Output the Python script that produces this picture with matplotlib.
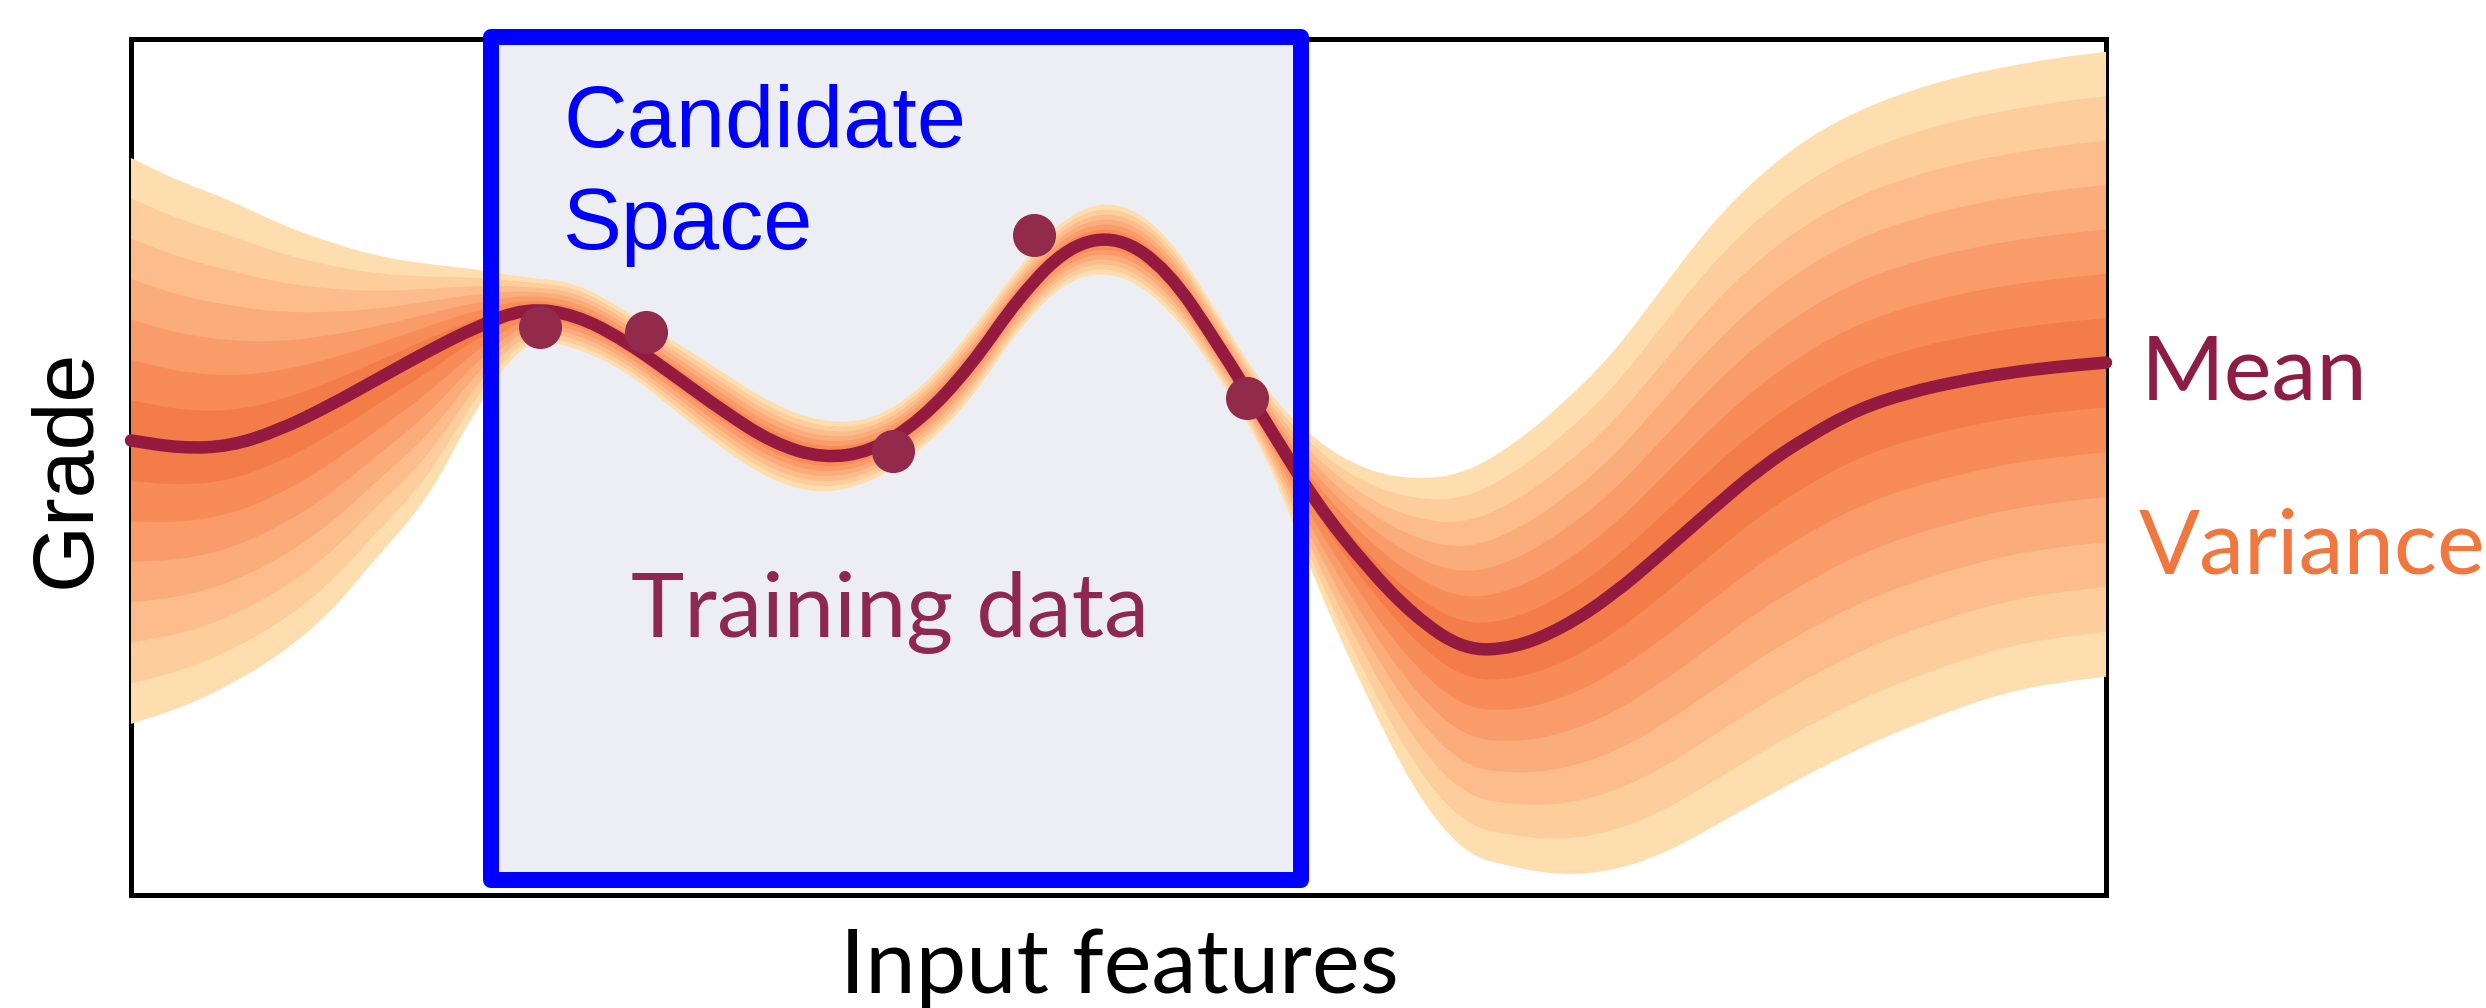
import matplotlib
matplotlib.use("Agg")
import matplotlib.pyplot as plt
from matplotlib.patches import Rectangle, PathPatch
from matplotlib.path import Path
from matplotlib.transforms import blended_transform_factory

# ---------------- data ----------------
x_feat = [0.0, 0.25, 0.5, 0.75, 1.0, 1.25, 1.5, 1.75, 2.0, 2.25, 2.5, 2.75,
          3.0, 3.25, 3.5, 3.75, 4.0, 4.25, 4.5, 4.75, 5.0, 5.25, 5.5, 5.75,
          6.0, 6.25, 6.5, 6.75, 7.0, 7.25, 7.5, 7.75, 8.0, 8.25, 8.5, 8.75,
          9.0, 9.25, 9.5, 9.75, 10.0]

grade_mean = [5.31, 5.22, 5.24, 5.43, 5.71, 6.03, 6.35, 6.64, 6.86, 6.78, 6.48, 6.07,
              5.65, 5.28, 5.10, 5.18, 5.55, 6.17, 7.00, 7.59, 7.70, 7.30, 6.45, 5.51,
              4.58, 3.85, 3.25, 2.86, 2.88, 3.12, 3.50, 3.99, 4.50, 4.99, 5.37, 5.68,
              5.87, 6.00, 6.10, 6.17, 6.22]

spread_up = [3.30, 3.11, 2.88, 2.41, 1.92, 1.43, 1.02, 0.67, 0.35, 0.38, 0.35, 0.40,
             0.45, 0.45, 0.42, 0.36, 0.36, 0.40, 0.36, 0.38, 0.42, 0.42, 0.36, 0.36,
             0.72, 1.11, 1.60, 2.06, 2.38, 2.62, 2.81, 3.09, 3.34, 3.43, 3.49, 3.49,
             3.52, 3.56, 3.58, 3.61, 3.63]

spread_low = [3.31, 3.04, 2.79, 2.63, 2.44, 2.07, 1.74, 0.94, 0.35, 0.38, 0.35, 0.40,
              0.45, 0.45, 0.42, 0.36, 0.36, 0.40, 0.36, 0.38, 0.42, 0.42, 0.36, 0.36,
              0.95, 1.50, 2.05, 2.38, 2.56, 2.89, 3.22, 3.52, 3.72, 3.88, 3.95, 3.97,
              3.91, 3.82, 3.73, 3.69, 3.67]

train_x = [2.07, 2.61, 3.86, 4.57, 5.65]
train_y = [6.64, 6.58, 5.19, 7.71, 5.81]

candidate_x = [1.823, 5.924]

band_levels = [1, 2, 3, 4, 5, 6, 7]
band_colors = ["#F47C48", "#F78C58", "#F99C69", "#FAAC7A",
               "#FCBC8B", "#FDCD9C", "#FEDEAE"]


# smooth path through the read points (quadratic Bezier rendering)
def smooth_segments(xs, ys, first_code):
    n = len(xs)
    verts = [(xs[0], ys[0])]
    codes = [first_code]
    mids = [((xs[i] + xs[i + 1]) / 2, (ys[i] + ys[i + 1]) / 2) for i in range(n - 1)]
    verts.append(mids[0])
    codes.append(Path.LINETO)
    for i in range(1, n - 1):
        verts += [(xs[i], ys[i]), mids[i]]
        codes += [Path.CURVE3, Path.CURVE3]
    verts.append((xs[-1], ys[-1]))
    codes.append(Path.LINETO)
    return verts, codes


# ---------------- figure ----------------
W, H = 2486, 1008
fig = plt.figure(figsize=(W / 100, H / 100), dpi=100)
fig.patch.set_facecolor("white")

ax = fig.add_axes([131 / W, 1 - 895 / H, (2106 - 131) / W, (895 - 39) / H])
ax.set_xlim(0, 10)
ax.set_ylim(0, 10)
ax.set_xticks([])
ax.set_yticks([])
for s in ax.spines.values():
    s.set_linewidth(3.6)
    s.set_color("black")

# candidate space box (fill behind, border on top)
trans = blended_transform_factory(ax.transData, ax.transAxes)
x0, x1 = candidate_x
ax.add_patch(Rectangle((x0, 0.0175), x1 - x0, 1.002 - 0.0175, transform=trans,
                       facecolor="#ECEEF4", edgecolor="none", zorder=0.5,
                       clip_on=False))
ax.add_patch(Rectangle((x0, 0.0175), x1 - x0, 1.002 - 0.0175, transform=trans,
                       facecolor="none", edgecolor="#0000FF", linewidth=11.5,
                       joinstyle="round", zorder=6, clip_on=False))

# variance bands
n = len(x_feat)
for lvl, col in zip(reversed(band_levels), reversed(band_colors)):
    f = lvl / len(band_levels)
    lo = [grade_mean[i] - f * spread_low[i] for i in range(n)]
    hi = [grade_mean[i] + f * spread_up[i] for i in range(n)]
    v1, c1 = smooth_segments(x_feat, hi, Path.MOVETO)
    v2, c2 = smooth_segments(x_feat[::-1], lo[::-1], Path.LINETO)
    verts = v1 + v2 + [v1[0]]
    codes = c1 + c2 + [Path.CLOSEPOLY]
    ax.add_patch(PathPatch(Path(verts, codes), facecolor=col, edgecolor="none",
                           linewidth=0, zorder=3))

# mean line
vm, cm = smooth_segments(x_feat, grade_mean, Path.MOVETO)
mean_patch = PathPatch(Path(vm, cm), facecolor="none", edgecolor="#941A40",
                       linewidth=9, zorder=4, clip_on=False)
mean_patch.set_capstyle("round")
mean_patch.set_joinstyle("round")
ax.add_patch(mean_patch)

# training points
ax.plot(train_x, train_y, "o", markersize=31, color="#922A4B",
        markeredgewidth=0, zorder=5)

# ---------------- texts ----------------
def fx(px):
    return px / W


def fy(py):
    return 1 - py / H


fig.text(fx(563), fy(147), "Candidate", color="#0000FF", fontsize=63.5,
         family="Liberation Sans", va="baseline", ha="left", zorder=10)
fig.text(fx(563), fy(249), "Space", color="#0000FF", fontsize=63.5,
         family="Liberation Sans", va="baseline", ha="left", zorder=10)
fig.text(fx(631), fy(637), "Training data", color="#8F2850", fontsize=65,
         family="Lato", va="baseline", ha="left", zorder=10)
fig.text(fx(2141), fy(400), "Mean", color="#8E1D45", fontsize=65,
         family="Lato", va="baseline", ha="left")
fig.text(fx(2139), fy(574), "Variance", color="#F0783E", fontsize=65,
         family="Lato", va="baseline", ha="left")
fig.text(fx(1119), fy(993), "Input features", color="black", fontsize=65,
         family="Lato", va="baseline", ha="center")
fig.text(fx(68), fy(468), "Grade", color="black", fontsize=62,
         family="Liberation Sans", va="center", ha="center", rotation=90)

fig.savefig("out.png", dpi=100, facecolor="white")
